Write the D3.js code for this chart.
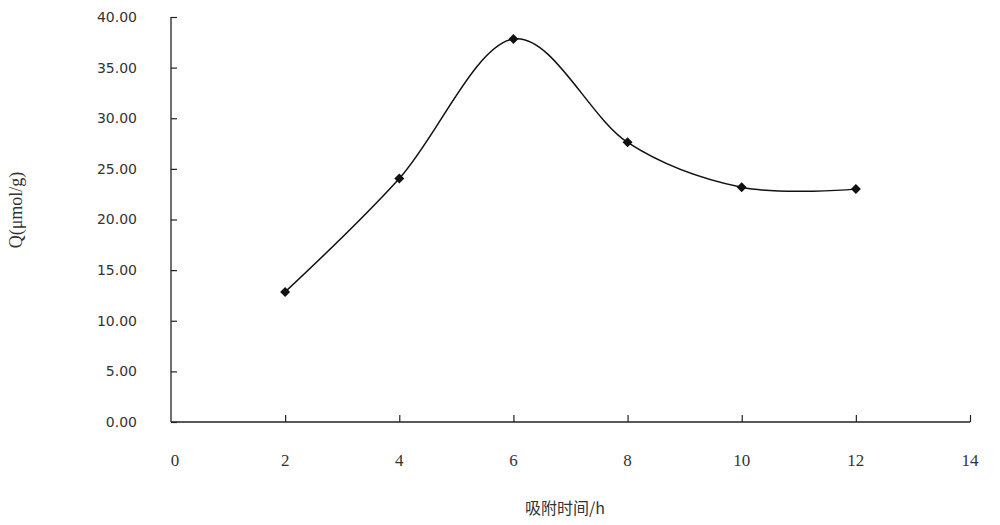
<!DOCTYPE html>
<html><head><meta charset="utf-8">
<script src="https://cdn.jsdelivr.net/npm/d3@7"></script>
<style>body{margin:0;background:#fff}svg{display:block}</style>
</head><body>
<svg id="c" width="1000" height="525"></svg>
<script>
const timesH = [2, 4, 6, 8, 10, 12];
const qValues = [12.85, 24.05, 37.83, 27.62, 23.18, 23.0];
const xTicks = [0, 2, 4, 6, 8, 10, 12, 14];
const yTicks = [0, 5, 10, 15, 20, 25, 30, 35, 40];
const xTitle = "吸附时间/h";
const yTitle = "Q(μmol/g)";

const svg = d3.select("#c");
const x = d3.scaleLinear().domain([0, 14]).range([171, 970]);
const y = d3.scaleLinear().domain([0, 40]).range([422, 17]);

const ink = "#222";
// y axis
const ya = svg.append("g").attr("transform", "translate(171,0)")
  .call(d3.axisRight(y).tickValues(yTicks).tickSize(6).tickFormat(""));
ya.select(".domain").attr("stroke", ink).attr("stroke-width", 1.3).attr("d", `M0,${y(40)}V${y(0)}`);
ya.selectAll(".tick line").attr("stroke", ink).attr("stroke-width", 1.2);
svg.append("g").selectAll("text").data(yTicks).join("text")
  .attr("x", 137).attr("y", d => y(d)).attr("dy", "0.35em")
  .attr("text-anchor", "end").style("font-family", "'DejaVu Sans', sans-serif")
  .attr("font-size", 14).attr("fill", "#333").text(d => d.toFixed(2));

// x axis
const xa = svg.append("g").attr("transform", "translate(0,422)")
  .call(d3.axisTop(x).tickValues(xTicks).tickSize(7).tickFormat(""));
xa.select(".domain").attr("stroke", ink).attr("stroke-width", 1.3).attr("d", `M${x(0)},0H${x(14)}`);
xa.selectAll(".tick line").attr("stroke", ink).attr("stroke-width", 1.2);
xa.selectAll(".tick").filter(d => d === 0).select("line").remove();
svg.append("g").selectAll("text").data(xTicks).join("text")
  .attr("x", d => x(d) + (d === 0 ? 4 : 0)).attr("y", 460).attr("dy", "0.35em")
  .attr("text-anchor", "middle").style("font-family", "'Liberation Serif', serif")
  .attr("font-size", 17).attr("fill", "#333").text(d => d);

// titles
svg.append("text").attr("x", 565).attr("y", 508).attr("dy", "0.35em")
  .attr("text-anchor", "middle").style("font-family", "'Noto Sans CJK SC', sans-serif")
  .attr("font-size", 16).attr("fill", "#333").text(xTitle);
svg.append("text").attr("transform", "translate(16,210) rotate(-90)").attr("dy", "0.35em")
  .attr("text-anchor", "middle").style("font-family", "'Liberation Serif', serif")
  .attr("font-size", 18).attr("fill", "#333").text(yTitle);

// data
const pts = timesH.map((t, i) => [t, qValues[i]]);
svg.append("path").datum(pts)
  .attr("d", d3.line().x(d => x(d[0])).y(d => y(d[1])).curve(d3.curveCardinal.tension(0)))
  .attr("fill", "none").attr("stroke", "#111").attr("stroke-width", 1.5);
svg.append("g").selectAll("path").data(pts).join("path")
  .attr("transform", d => `translate(${x(d[0])},${y(d[1])}) rotate(45)`)
  .attr("d", d3.symbol(d3.symbolSquare, 50)).attr("fill", "#111");
</script>
</body></html>
